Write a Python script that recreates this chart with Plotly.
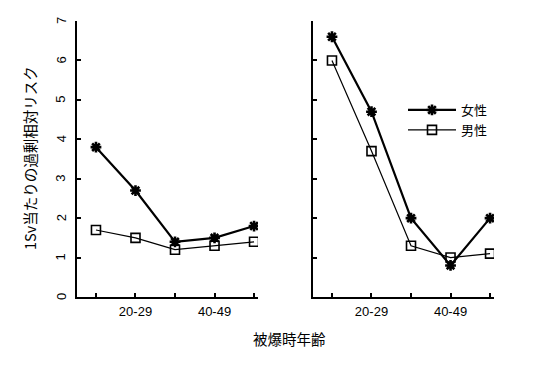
import plotly.graph_objects as go

W, H = 541, 371
OFF = 8  # browser body margin
FW, FH = W - OFF, H - OFF

age_pos = [1, 2, 3, 4, 5]
tick_text = ["", "20-29", "", "40-49", ""]

female_left = [3.8, 2.7, 1.4, 1.5, 1.8]
male_left = [1.7, 1.5, 1.2, 1.3, 1.4]
female_right = [6.6, 4.7, 2.0, 0.8, 2.0]
male_right = [6.0, 3.7, 1.3, 1.0, 1.1]

y_ticks = [0, 1, 2, 3, 4, 5, 6, 7]

JP = "Noto Sans CJK JP"
LAT = "Liberation Sans"


def px(x):
    return (x - OFF) / FW


def py(y):
    return 1 - (y - OFF) / FH


fig = go.Figure()

female_style = dict(mode="lines+markers",
                    line=dict(color="black", width=2.2),
                    marker=dict(symbol="asterisk-open", size=9,
                                line=dict(color="black", width=2.6), color="black"))
male_style = dict(mode="lines+markers",
                  line=dict(color="black", width=1.2),
                  marker=dict(symbol="square-open", size=9, color="black",
                              line=dict(color="black", width=1.6)))

fig.add_trace(go.Scatter(x=age_pos, y=female_left, name="女性", xaxis="x", yaxis="y",
                         legendgroup="f", **female_style))
fig.add_trace(go.Scatter(x=age_pos, y=male_left, name="男性", xaxis="x", yaxis="y",
                         legendgroup="m", **male_style))
fig.add_trace(go.Scatter(x=age_pos, y=female_right, name="女性", xaxis="x2", yaxis="y2",
                         legendgroup="f", showlegend=False, **female_style))
fig.add_trace(go.Scatter(x=age_pos, y=male_right, name="男性", xaxis="x2", yaxis="y2",
                         legendgroup="m", showlegend=False, **male_style))

ydom = [py(297), py(21)]
xcommon = dict(range=[0.52, 5.1], showline=True, linecolor="black", linewidth=2,
               ticks="inside", ticklen=4, tickwidth=1.5, tickcolor="black",
               tickvals=age_pos, ticktext=tick_text,
               showgrid=False, zeroline=False, automargin=False,
               tickfont=dict(family=LAT, size=13, color="black"), ticklabelstandoff=1)
ycommon = dict(range=[0, 7], showline=True, linecolor="black", linewidth=2,
               ticks="inside", ticklen=4, tickwidth=1.5, tickcolor="black",
               tickvals=y_ticks, showgrid=False, zeroline=False, automargin=False,
               showticklabels=False, domain=ydom)

annotations = [
    dict(text="1Sv当たりの過剰相対リスク", x=px(30), y=py(158), xref="paper", yref="paper",
         textangle=-90, showarrow=False, font=dict(family=JP, size=14.5, color="black"),
         xanchor="center", yanchor="middle"),
    dict(text="被爆時年齢", x=px(289), y=py(338), xref="paper", yref="paper",
         showarrow=False, font=dict(family=JP, size=14.5, color="black"),
         xanchor="center", yanchor="middle"),
]
# rotated y tick labels (left panel only)
for v in y_ticks:
    annotations.append(dict(text=str(v), x=px(61), y=v, xref="paper", yref="y",
                            textangle=-90, showarrow=False,
                            font=dict(family=LAT, size=13, color="black"),
                            xanchor="center", yanchor="middle"))

fig.update_layout(
    width=FW, height=FH,
    margin=dict(l=0, r=0, t=0, b=0),
    paper_bgcolor="white", plot_bgcolor="white",
    showlegend=True,
    xaxis=dict(domain=[px(77), px(258)], anchor="y", **xcommon),
    yaxis=dict(anchor="x", **ycommon),
    xaxis2=dict(domain=[px(313), px(494)], anchor="y2", **xcommon),
    yaxis2=dict(anchor="x2", **ycommon),
    legend=dict(x=px(403), y=py(95), xanchor="left", yanchor="top",
                bgcolor="rgba(0,0,0,0)", font=dict(family=JP, size=13, color="black"),
                itemwidth=48, tracegroupgap=0),
    annotations=annotations,
)

fig.write_html("out.html")
